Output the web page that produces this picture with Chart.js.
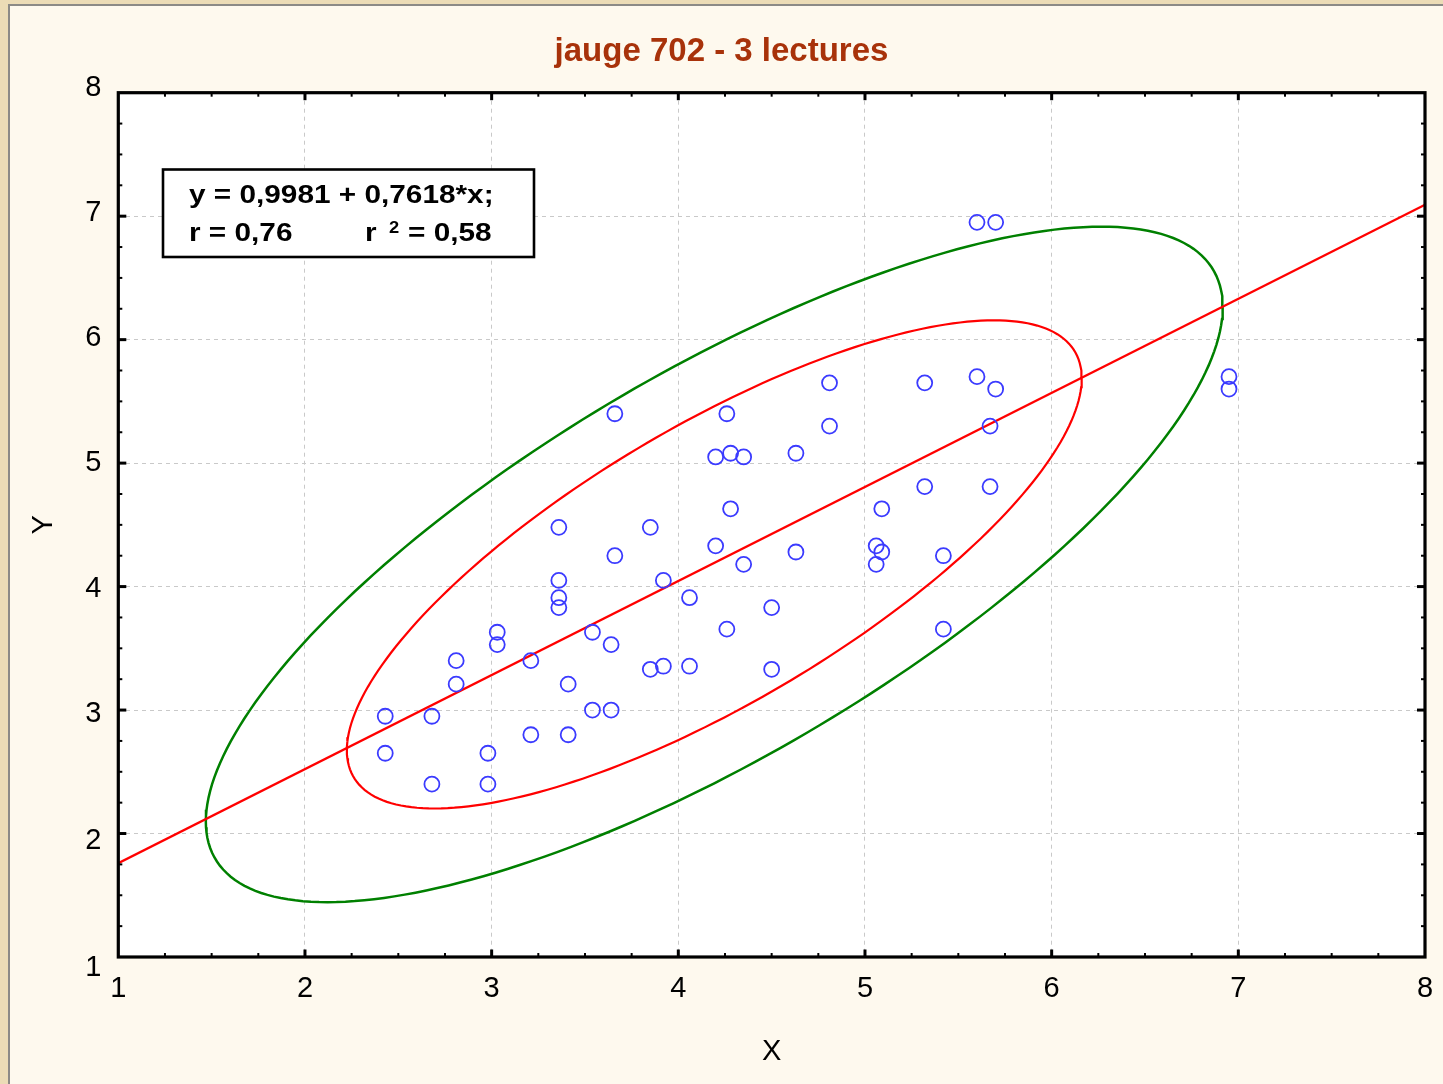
<!DOCTYPE html>
<html>
<head>
<meta charset="utf-8">
<title>jauge 702 - 3 lectures</title>
<script src="https://cdn.jsdelivr.net/npm/chart.js@4.4.1/dist/chart.umd.min.js"></script>
<style>
  html, body { margin: 0; padding: 0; background: #fef9ee; overflow: hidden; }
  #c { display: block; }
</style>
</head>
<body>
<canvas id="c" width="1443" height="1084"></canvas>
<script>
// Gauge 702, three readings: measured pairs (X, Y)
const X_VALUES = [
  2.43, 2.43, 2.68, 2.68, 2.81, 2.81, 2.98, 2.98, 3.03, 3.03,
  3.21, 3.21, 3.36, 3.36, 3.36, 3.36, 3.41, 3.41, 3.54, 3.54,
  3.64, 3.64, 3.66, 3.66, 3.85, 3.85, 3.92, 3.92, 4.06, 4.06,
  4.20, 4.20, 4.26, 4.26, 4.28, 4.28, 4.35, 4.35, 4.50, 4.50,
  4.63, 4.63, 4.81, 4.81, 5.06, 5.06, 5.09, 5.09, 5.32, 5.32,
  5.42, 5.42, 5.60, 5.70, 5.60, 5.70, 5.67, 5.67, 6.95, 6.95
];
const Y_VALUES = [
  2.95, 2.65, 2.95, 2.40, 3.40, 3.21, 2.65, 2.40, 3.63, 3.53,
  3.40, 2.80, 4.48, 4.05, 3.91, 3.83, 3.21, 2.80, 3.63, 3.00,
  3.53, 3.00, 5.40, 4.25, 4.48, 3.33, 4.05, 3.355, 3.91, 3.355,
  5.05, 4.33, 5.40, 3.655, 5.08, 4.63, 5.05, 4.18, 3.83, 3.33,
  5.08, 4.28, 5.65, 5.30, 4.33, 4.18, 4.63, 4.28, 5.65, 4.81,
  4.25, 3.655, 6.95, 6.95, 5.70, 5.60, 5.30, 4.81, 5.70, 5.60
];

// Axis ranges and tick labels
const X_TICKS = [1, 2, 3, 4, 5, 6, 7, 8];
const Y_TICKS = [1, 2, 3, 4, 5, 6, 7, 8];
const MINOR_PER_MAJOR = 4;
// small vertical nudge (px) of each Y tick label, bottom to top
const Y_LABEL_NUDGE = [11, 7, 4, 2, 0, -1.5, -3, -4.5];

// Fitted regression (as printed in the box)
const INTERCEPT = 0.9981;
const SLOPE = 0.7618;
const FIT_LINE_1 = 'y = 0,9981 + 0,7618*x;';
const FIT_R = 'r = 0,76';
const FIT_R2_LEFT = 'r';
const FIT_R2_EXP = '2';
const FIT_R2_RIGHT = '= 0,58';

// Ellipse sizes in standard-deviation units (inner / outer)
const ELLIPSE_K = [1.85, 2.56];

const TITLE = 'jauge 702 - 3 lectures';
const FONT = "'Liberation Sans', Arial, Helvetica, sans-serif";

// ---- statistics for the ellipses
const n = X_VALUES.length;
const mx = X_VALUES.reduce((a, b) => a + b, 0) / n;
const my = Y_VALUES.reduce((a, b) => a + b, 0) / n;
let sxx = 0, syy = 0, sxy = 0;
for (let i = 0; i < n; i++) {
  const dx = X_VALUES[i] - mx, dy = Y_VALUES[i] - my;
  sxx += dx * dx; syy += dy * dy; sxy += dx * dy;
}
const sdx = Math.sqrt(sxx / (n - 1));
const sdy = Math.sqrt(syy / (n - 1));
const rho = sxy / Math.sqrt(sxx * syy);

function ellipsePoints(k) {
  const pts = [];
  const steps = 240;
  const s = Math.sqrt(1 - rho * rho);
  for (let i = 0; i <= steps; i++) {
    const t = (i / steps) * Math.PI * 2;
    pts.push({
      x: mx + k * sdx * Math.cos(t),
      y: my + k * sdy * (rho * Math.cos(t) + s * Math.sin(t))
    });
  }
  return pts;
}

const scatterData = X_VALUES.map((x, i) => ({ x, y: Y_VALUES[i] }));
const xMin = X_TICKS[0], xMax = X_TICKS[X_TICKS.length - 1];
const fitData = [
  { x: xMin, y: INTERCEPT + SLOPE * xMin },
  { x: xMax, y: INTERCEPT + SLOPE * xMax }
];

// ---- page background, panel and white plot area
const backgroundPlugin = {
  id: 'panelBackground',
  beforeDraw(chart) {
    const { ctx, width, height, chartArea: a } = chart;
    ctx.save();
    ctx.fillStyle = '#ecdcb6';
    ctx.fillRect(0, 0, width, height);
    ctx.fillStyle = '#8c8a86';
    ctx.fillRect(8, 4, width - 8, 2);
    ctx.fillRect(8, 4, 2, height - 4);
    ctx.fillStyle = '#fef9ee';
    ctx.fillRect(10, 6, width - 10, height - 6);
    ctx.fillStyle = '#ffffff';
    ctx.fillRect(a.left, a.top, a.right - a.left, a.bottom - a.top);
    ctx.restore();
  }
};

// ---- frame with inward tick marks on all four sides, labels, title and the fit box
const framePlugin = {
  id: 'frameAndTicks',
  afterDraw(chart) {
    const { ctx, chartArea: a, scales, width } = chart;
    const xs = scales.x, ys = scales.y;
    ctx.save();
    ctx.strokeStyle = '#000';
    ctx.lineCap = 'butt';

    const drawTick = (x1, y1, x2, y2, w) => {
      ctx.lineWidth = w;
      ctx.beginPath();
      ctx.moveTo(x1, y1);
      ctx.lineTo(x2, y2);
      ctx.stroke();
    };

    for (let i = 0; i < X_TICKS.length - 1; i++) {
      for (let m = 0; m < MINOR_PER_MAJOR; m++) {
        const v = X_TICKS[i] + (X_TICKS[i + 1] - X_TICKS[i]) * m / MINOR_PER_MAJOR;
        const px = xs.getPixelForValue(v);
        const len = m === 0 ? 7.5 : 4;
        const w = m === 0 ? 3 : 2;
        if (m === 0 && i === 0) continue;
        drawTick(px, a.bottom, px, a.bottom - len, w);
        drawTick(px, a.top, px, a.top + len, w);
      }
    }
    for (let i = 0; i < Y_TICKS.length - 1; i++) {
      for (let m = 0; m < MINOR_PER_MAJOR; m++) {
        const v = Y_TICKS[i] + (Y_TICKS[i + 1] - Y_TICKS[i]) * m / MINOR_PER_MAJOR;
        const py = ys.getPixelForValue(v);
        const len = m === 0 ? 8 : 4;
        const w = m === 0 ? 3 : 2;
        if (m === 0 && i === 0) continue;
        drawTick(a.left, py, a.left + len, py, w);
        drawTick(a.right, py, a.right - len, py, w);
      }
    }

    ctx.lineWidth = 3.2;
    ctx.strokeRect(a.left, a.top, a.right - a.left, a.bottom - a.top);

    // Y tick labels
    ctx.fillStyle = '#000';
    ctx.font = `29px ${FONT}`;
    ctx.textAlign = 'right';
    ctx.textBaseline = 'middle';
    Y_TICKS.forEach((v, i) => {
      ctx.fillText(String(v), a.left - 17, ys.getPixelForValue(v) + Y_LABEL_NUDGE[i]);
    });

    // title
    ctx.fillStyle = '#a8320a';
    ctx.font = `bold 33px ${FONT}`;
    ctx.textAlign = 'center';
    ctx.textBaseline = 'alphabetic';
    ctx.fillText(TITLE, width / 2, 61);

    // regression box
    const bx = 163, by = 169.5, bw = 371, bh = 87.5;
    ctx.fillStyle = '#ffffff';
    ctx.fillRect(bx, by, bw, bh);
    ctx.lineWidth = 2.6;
    ctx.strokeStyle = '#000';
    ctx.strokeRect(bx, by, bw, bh);

    ctx.fillStyle = '#000';
    ctx.textBaseline = 'alphabetic';
    ctx.textAlign = 'left';
    const sx = 1.145;
    const textAt = (txt, x, y, size) => {
      ctx.save();
      ctx.translate(x, y);
      ctx.scale(sx, 1);
      ctx.font = `bold ${size}px ${FONT}`;
      ctx.fillText(txt, 0, 0);
      ctx.restore();
    };
    textAt(FIT_LINE_1, 189, 202.5, 26);
    textAt(FIT_R, 189, 241, 26);
    textAt(FIT_R2_LEFT, 365, 241, 26);
    textAt(FIT_R2_EXP, 389, 233, 16);
    textAt(FIT_R2_RIGHT, 408, 241, 26);
    ctx.restore();
  }
};

const chart = new Chart(document.getElementById('c'), {
  type: 'scatter',
  data: {
    datasets: [
      {
        label: 'points',
        data: scatterData,
        showLine: false,
        pointStyle: 'circle',
        pointRadius: 7.5,
        pointBorderWidth: 1.8,
        pointBorderColor: '#3b3bff',
        pointBackgroundColor: 'rgba(0,0,0,0)',
        order: 1
      },
      {
        label: 'fit',
        data: fitData,
        showLine: true,
        borderColor: '#ff0000',
        borderWidth: 2.2,
        pointRadius: 0,
        tension: 0,
        order: 2
      },
      {
        label: 'ellipse inner',
        data: ellipsePoints(ELLIPSE_K[0]),
        showLine: true,
        borderColor: '#ff0000',
        borderWidth: 2.2,
        pointRadius: 0,
        tension: 0,
        order: 3
      },
      {
        label: 'ellipse outer',
        data: ellipsePoints(ELLIPSE_K[1]),
        showLine: true,
        borderColor: '#008000',
        borderWidth: 2.5,
        pointRadius: 0,
        tension: 0,
        order: 4
      }
    ]
  },
  options: {
    responsive: false,
    animation: false,
    devicePixelRatio: 1,
    events: [],
    layout: { padding: { left: 0, top: 92.7, right: 18, bottom: 0 } },
    plugins: {
      legend: { display: false },
      tooltip: { enabled: false },
      title: { display: false }
    },
    scales: {
      x: {
        type: 'linear',
        position: 'bottom',
        min: xMin,
        max: xMax,
        afterBuildTicks(scale) { scale.ticks = X_TICKS.map(v => ({ value: v })); },
        afterFit(scale) {
          scale.height = 127;
          scale.paddingLeft = 0;
          scale.paddingRight = 0;
        },
        ticks: {
          color: '#000',
          font: { family: FONT, size: 29 },
          padding: 14.6,
          maxRotation: 0,
          autoSkip: false
        },
        grid: {
          color: '#c9c9c9',
          lineWidth: 1,
          drawTicks: false
        },
        border: { display: false, dash: [4, 4] },
        title: {
          display: true,
          text: 'X',
          color: '#000',
          font: { family: FONT, size: 29 },
          padding: { top: 0, bottom: 14.6 }
        }
      },
      y: {
        type: 'linear',
        position: 'left',
        min: Y_TICKS[0],
        max: Y_TICKS[Y_TICKS.length - 1],
        afterBuildTicks(scale) { scale.ticks = Y_TICKS.map(v => ({ value: v })); },
        afterFit(scale) {
          scale.width = 118.3;
          scale.paddingTop = 0;
          scale.paddingBottom = 0;
        },
        ticks: {
          display: false,
          autoSkip: false
        },
        grid: {
          color: '#c9c9c9',
          lineWidth: 1,
          drawTicks: false
        },
        border: { display: false, dash: [4, 4] },
        title: {
          display: true,
          text: 'Y',
          color: '#000',
          font: { family: FONT, size: 29 },
          padding: { top: 27, bottom: 0 }
        }
      }
    }
  },
  plugins: [backgroundPlugin, framePlugin]
});
</script>
</body>
</html>
